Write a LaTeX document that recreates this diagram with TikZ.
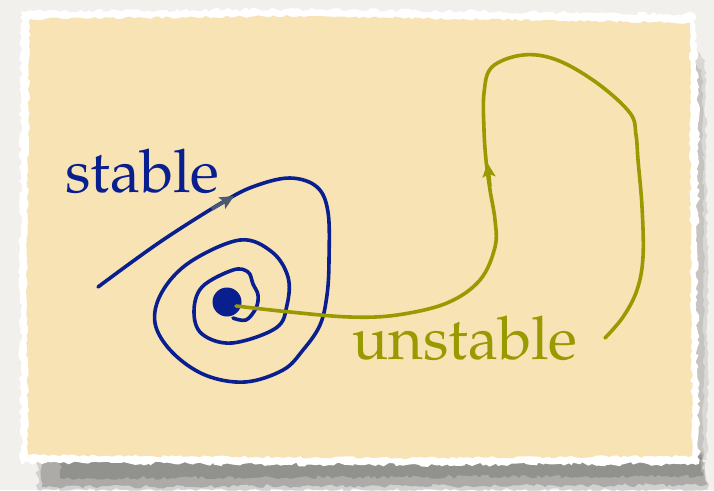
\documentclass[tikz,border=0pt]{standalone}
\usepackage[T1]{fontenc}
\usepackage{mathpazo}
\usetikzlibrary{decorations.pathmorphing,arrows.meta}
\definecolor{bgc}{HTML}{F2F0EC}
\definecolor{paperc}{HTML}{F8E3B5}
\definecolor{stablec}{HTML}{0A1F8F}
\definecolor{unstablec}{HTML}{999900}
\definecolor{arrowc}{HTML}{4A5870}
\definecolor{shadowc}{HTML}{555555}
\tikzset{
  torn/.style={decorate,decoration={random steps,segment length=4pt,amplitude=#1}},
  stableline/.style={draw=stablec,line width=3.6pt,line cap=round,line join=round},
  unstableline/.style={draw=unstablec,line width=3.6pt,line cap=round,line join=round},
  lbl/.style={inner sep=0pt,anchor=base west,font=\fontsize{60}{62}\selectfont}
}
\begin{document}
\begin{tikzpicture}[x=1pt,y=-1pt]
\pgfmathsetseed{7}
\useasboundingbox (0,0) rectangle (714,490);
\fill[bgc] (0,0) rectangle (714,490);
% shadow
\fill[shadowc,opacity=0.2,torn=2pt] (36,452) -- (702,452) -- (709,490) -- (38,490) -- cycle;
\fill[shadowc,opacity=0.3,torn=2pt] (40,455) -- (702,455) -- (706,485) -- (42,487) -- cycle;
\fill[shadowc,opacity=0.3,torn=2pt] (60,458) -- (700,458) -- (703,476) -- (60,478) -- cycle;
\fill[shadowc,opacity=0.15,torn=1.5pt] (690,45) -- (705,60) -- (708,300) -- (707,460) -- (690,460) -- cycle;
\fill[shadowc,opacity=0.15,torn=1.5pt] (690,60) -- (702,70) -- (704,300) -- (703,460) -- (690,460) -- cycle;
% white torn border
\fill[white,torn=2pt] (21,11) -- (300,9) -- (695,14) -- (699,120) -- (697,300) -- (699,464) -- (400,465) -- (21,463) -- (20,250) -- cycle;
% paper
\fill[paperc,torn=1.3pt] (30,19) -- (300,16) -- (690,23) -- (690,120) -- (691,300) -- (692,456) -- (400,458) -- (28,455) -- (27,250) -- cycle;
% stable trajectory
\draw[stableline] plot[smooth,tension=0.6] coordinates {
(98,287) (160,242) (223,202) (255,186) (290,178) (317,187) (328,212)
(329,260) (327,295) (320,325) (303,350) (283,370) (245,382) (205,375)
(172,352) (155,323) (162,292) (190,262) (240,240) (272,252) (288,277)
(287,305) (276,328) (232,343) (202,334) (194,312) (202,287) (233,270)
(248,272) (253,284) (258,295) (256,308) (246,320) (233,318)};
\draw[arrowc,line width=3.6pt,-{Stealth[length=14pt,width=13pt,inset=3pt]}] (212,209) -- (234,196);
% fixed point
\coordinate (fix) at (227,302);
\fill[stablec] (fix) circle (14.5);
% unstable trajectory
\draw[unstableline] plot[smooth,tension=0.6] coordinates {
(236,306) (290,312) (350,317) (397,315) (447,303) (480,280) (495,247)
(495,220) (490,190) (486,160) (484,130) (484,93) (492,67) (523,55)
(557,60) (597,83) (630,113) (636,135) (638,160) (642,207) (643,257)
(637,290) (623,317) (605,338)};
\draw[unstablec,line width=3.6pt,-{Stealth[length=14pt,width=13pt,inset=3pt]}] (490,186) -- (487.5,163);
% labels
\node[lbl,text=stablec] (st) at (65,192) {stable};
\node[lbl,text=unstablec] (un) at (352,359) {unstable};
\end{tikzpicture}
\end{document}
